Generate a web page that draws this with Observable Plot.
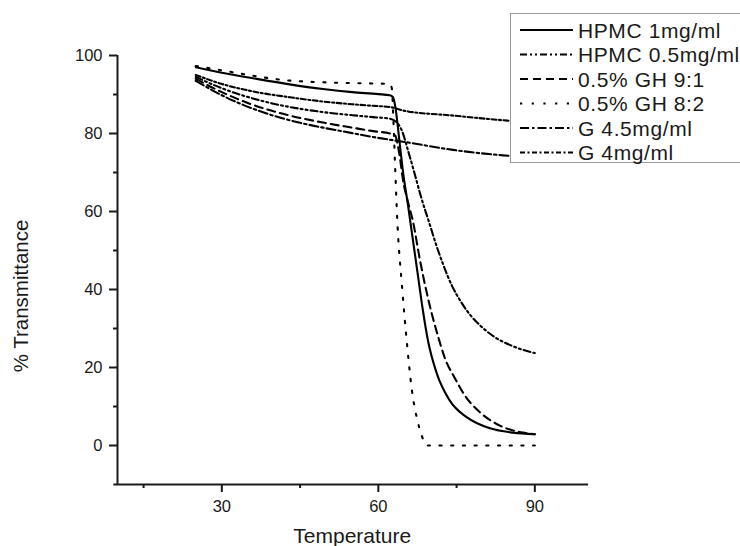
<!DOCTYPE html>
<html>
<head>
<meta charset="utf-8">
<script src="https://cdn.jsdelivr.net/npm/d3@7"></script>
<script src="https://cdn.jsdelivr.net/npm/@observablehq/plot@0.6"></script>
<style>
  html, body { margin: 0; padding: 0; background: #fff; }
  #chart { position: relative; width: 740px; height: 546px; }
</style>
</head>
<body>
<div id="chart"></div>
<script>
// ---------- data ----------
const seriesNames = ["HPMC 1mg/ml", "HPMC 0.5mg/ml", "0.5% GH 9:1", "0.5% GH 8:2", "G 4.5mg/ml", "G 4mg/ml"];

const hpmc1T = [25, 30, 36.7, 43, 49.4, 55, 60, 62.2, 62.8, 63.3, 63.8, 64.3, 64.7, 65.7, 66.6, 67.6, 68.5, 69.5, 71.2, 73.7, 77, 81.4, 85.8, 90];
const hpmc1V = [97, 95.6, 94, 92.6, 91.4, 90.6, 90.1, 89.8, 89.3, 86.5, 81, 75, 70.5, 61.5, 53, 43.5, 35, 27, 18.5, 11.5, 7.2, 4.4, 3.3, 2.9];

const hpmc05T = [25, 30, 36.7, 43, 49.4, 55, 59, 62.2, 63.7, 64.5, 65.7, 67, 68, 69.9, 71.2, 72.4, 74.1, 76, 77.9, 79.5, 82.3, 85.2, 88, 90];
const hpmc05V = [94.5, 91.6, 88.7, 86.8, 85.5, 84.7, 84.2, 83.8, 82.6, 80.8, 75.6, 69.5, 64.6, 56.5, 51, 46.5, 41, 36.5, 33, 30.8, 27.8, 25.8, 24.4, 23.7];

const gh91T = [25, 30, 36.7, 43, 49.4, 55, 59, 62.2, 63.2, 64, 64.8, 65.7, 66.6, 68, 69.5, 70.4, 71.4, 72.7, 74.7, 76.6, 79.5, 83.3, 87.7, 90];
const gh91V = [94, 90.6, 87, 84.6, 82.8, 81.5, 80.6, 80, 79.5, 75, 67.5, 62.3, 57.7, 47.4, 37.9, 33, 28.2, 22.6, 17.2, 12.8, 8.5, 5.1, 3.3, 2.9];

const gh82T = [25, 30, 36, 42, 50, 56, 62.2, 62.6, 62.9, 63.2, 63.7, 64.5, 65.5, 66.4, 67.4, 68.3, 69.3, 75, 80, 85, 90];
const gh82V = [97.3, 96.2, 94.8, 93.7, 93.1, 92.9, 92.7, 91.5, 83, 72, 56, 41.5, 26, 14.5, 7, 2.6, 0, 0, 0, 0, 0];

const g45T = [25, 30, 36.7, 43, 49.4, 55, 59, 62.2, 64.7, 74.3, 83.9, 90];
const g45V = [93.5, 89.8, 86, 83.4, 81.5, 80.1, 79.1, 78.4, 77.9, 75.8, 74.4, 73.9];

const g4T = [25, 30, 36.7, 43, 49.4, 55, 59, 62.2, 64.7, 74.3, 84.8, 90];
const g4V = [95, 92.7, 90.6, 89.3, 88.2, 87.5, 87.1, 86.8, 85.9, 84.6, 83.3, 82.8];

const xMajorTicks = [30, 60, 90];
const xMinorTicks = [15, 45, 75];
const yMajorTicks = [0, 20, 40, 60, 80, 100];
const yMinorTicks = [10, 30, 50, 70, 90];
const xTitle = "Temperature";
const yTitle = "% Transmittance";

// ---------- styles ----------
const dashes = {
  "HPMC 1mg/ml": null,
  "HPMC 0.5mg/ml": "7,3,2,3,2,3",
  "0.5% GH 9:1": "8,5",
  "0.5% GH 8:2": "2.2,9.5",
  "G 4.5mg/ml": "9,3,2.5,3",
  "G 4mg/ml": "5,2.5,2,2.5"
};
const FONT = "'Liberation Sans', Arial, Helvetica, sans-serif";
const INK = "#1a1a1a";

const seriesData = [
  [hpmc1T, hpmc1V], [hpmc05T, hpmc05V], [gh91T, gh91V],
  [gh82T, gh82V], [g45T, g45V], [g4T, g4V]
];
const rows = seriesNames.map((name, k) =>
  seriesData[k][0].map((t, i) => ({name, t, v: seriesData[k][1][i]})));

const lineMarks = rows.map((r, k) => Plot.line(r, {
  x: "t", y: "v", stroke: "black", strokeWidth: 2.1,
  strokeDasharray: dashes[seriesNames[k]] ?? undefined,
  curve: "monotone-x"
}));

const chart = Plot.plot({
  width: 740,
  height: 546,
  marginLeft: 117,
  marginRight: 153.5,
  marginTop: 55,
  marginBottom: 62,
  style: {fontFamily: FONT, fontSize: "16.5px", color: INK, background: "white", overflow: "visible"},
  x: {domain: [10, 100]},
  y: {domain: [-10, 100]},
  marks: [
    ...lineMarks,
    Plot.ruleX([10], {y1: -10, y2: 100, stroke: INK, strokeWidth: 2}),
    Plot.ruleY([-10], {x1: 9.3, x2: 100.3, stroke: INK, strokeWidth: 2}),
    Plot.axisX({ticks: xMajorTicks, tickSize: 8, tickPadding: 8, label: null, stroke: INK, strokeWidth: 2, fontSize: 16.5}),
    Plot.axisX({ticks: xMinorTicks, tickSize: 4, tickFormat: () => "", label: null, stroke: INK, strokeWidth: 2}),
    Plot.axisY({ticks: yMajorTicks, tickSize: 8, tickPadding: 7, label: null, stroke: INK, strokeWidth: 2, fontSize: 16.5}),
    Plot.axisY({ticks: yMinorTicks, tickSize: 4, tickFormat: () => "", label: null, stroke: INK, strokeWidth: 2}),
    Plot.text([xTitle], {frameAnchor: "bottom", textAnchor: "middle", lineAnchor: "middle", dy: 52, fontSize: 21, fill: INK}),
    Plot.text([yTitle], {frameAnchor: "left", textAnchor: "middle", lineAnchor: "middle", dx: -96, dy: 26, rotate: -90, fontSize: 20.5, fill: INK})
  ]
});

document.getElementById("chart").appendChild(chart);

// ---------- legend (overlays the plot, like the original) ----------
const svg = d3.select(chart);
const lg = svg.append("g").attr("font-family", FONT).attr("text-anchor", "start");
lg.append("rect")
  .attr("x", 510.5).attr("y", 13.5).attr("width", 240).attr("height", 149)
  .attr("fill", "white").attr("stroke", "#9a9a9a").attr("stroke-width", 1);
seriesNames.forEach((name, i) => {
  const cy = 30 + i * 24.5;
  lg.append("line")
    .attr("x1", 520).attr("x2", 573).attr("y1", cy).attr("y2", cy)
    .attr("stroke", "black").attr("stroke-width", 2.1)
    .attr("stroke-dasharray", dashes[name]);
  lg.append("text")
    .attr("x", 578).attr("y", cy).attr("dy", "0.36em")
    .attr("text-anchor", "start")
    .attr("font-size", 21).attr("letter-spacing", "0.6px").attr("fill", INK)
    .text(name);
});
</script>
</body>
</html>
